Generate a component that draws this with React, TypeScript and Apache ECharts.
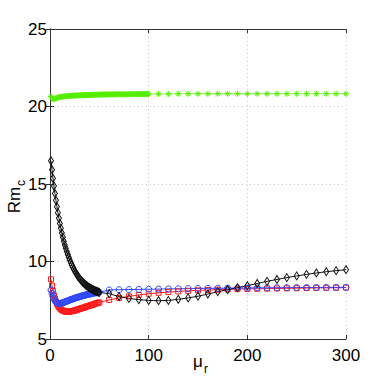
import React, { useEffect, useRef } from "react";
import * as echarts from "echarts";

// x positions: dense part 1..50 (red, blue, black), 1..100 (green); sparse part every 10
const xDense50 = Array.from({ length: 50 }, (_, i) => i + 1);
const xDense100 = Array.from({ length: 100 }, (_, i) => i + 1);
const xSparse60 = [60, 70, 80, 90, 100, 110, 120, 130, 140, 150, 160, 170, 180, 190, 200, 210, 220, 230, 240, 250, 260, 270, 280, 290, 300];
const xSparse110 = [110, 120, 130, 140, 150, 160, 170, 180, 190, 200, 210, 220, 230, 240, 250, 260, 270, 280, 290, 300];

const blackDense = [
  16.5, 15.92, 15.37, 14.87, 14.39, 13.95, 13.53, 13.15, 12.79, 12.45,
  12.14, 11.84, 11.57, 11.31, 11.07, 10.85, 10.64, 10.45, 10.27, 10.1,
  9.94, 9.79, 9.65, 9.52, 9.4, 9.29, 9.18, 9.08, 8.99, 8.91,
  8.83, 8.75, 8.68, 8.62, 8.56, 8.5, 8.45, 8.4, 8.35, 8.31,
  8.27, 8.23, 8.2, 8.16, 8.13, 8.1, 8.08, 8.05, 8.03, 8.01,
];
const blackSparse = [
  7.92, 7.74, 7.62, 7.54, 7.49, 7.47, 7.49, 7.56, 7.65, 7.76,
  7.9, 8.05, 8.18, 8.31, 8.44, 8.58, 8.72, 8.84, 8.96, 9.07,
  9.17, 9.26, 9.34, 9.41, 9.47,
];

const redDense = [
  8.85, 8.45, 8.1, 7.82, 7.6, 7.42, 7.28, 7.16, 7.06, 6.98,
  6.92, 6.87, 6.83, 6.8, 6.78, 6.77, 6.76, 6.76, 6.76, 6.77,
  6.78, 6.79, 6.81, 6.82, 6.84, 6.86, 6.88, 6.9, 6.92, 6.94,
  6.96, 6.98, 7.0, 7.02, 7.04, 7.07, 7.09, 7.11, 7.13, 7.15,
  7.17, 7.19, 7.21, 7.23, 7.26, 7.28, 7.3, 7.32, 7.34, 7.36,
];
const redSparse = [
  7.52, 7.65, 7.75, 7.84, 7.92, 7.98, 8.03, 8.07, 8.11, 8.14,
  8.16, 8.18, 8.2, 8.22, 8.23, 8.24, 8.25, 8.26, 8.27, 8.28,
  8.29, 8.3, 8.3, 8.31, 8.32,
];

const blueDense = [
  8.16, 7.95, 7.75, 7.6, 7.48, 7.4, 7.34, 7.31, 7.29, 7.29,
  7.3, 7.32, 7.34, 7.36, 7.39, 7.41, 7.44, 7.46, 7.49, 7.51,
  7.54, 7.56, 7.58, 7.61, 7.63, 7.65, 7.67, 7.69, 7.71, 7.73,
  7.75, 7.77, 7.79, 7.8, 7.82, 7.84, 7.85, 7.87, 7.88, 7.9,
  7.91, 7.93, 7.94, 7.95, 7.97, 7.98, 7.99, 8.0, 8.01, 8.02,
];
const blueSparse = [
  8.16, 8.18, 8.19, 8.2, 8.21, 8.22, 8.23, 8.24, 8.25, 8.26,
  8.27, 8.27, 8.28, 8.29, 8.29, 8.3, 8.3, 8.31, 8.31, 8.32,
  8.32, 8.32, 8.33, 8.33, 8.33,
];

const greenDense = [
  20.65, 20.55, 20.48, 20.47, 20.5, 20.53, 20.56, 20.58, 20.6, 20.61,
  20.62, 20.63, 20.64, 20.65, 20.66, 20.66, 20.67, 20.67, 20.68, 20.68,
  20.69, 20.69, 20.7, 20.7, 20.7, 20.71, 20.71, 20.71, 20.72, 20.72,
  20.72, 20.73, 20.73, 20.73, 20.73, 20.74, 20.74, 20.74, 20.74, 20.75,
  20.75, 20.75, 20.75, 20.75, 20.76, 20.76, 20.76, 20.76, 20.76, 20.77,
  20.77, 20.77, 20.77, 20.77, 20.77, 20.77, 20.78, 20.78, 20.78, 20.78,
  20.78, 20.78, 20.78, 20.78, 20.78, 20.79, 20.79, 20.79, 20.79, 20.79,
  20.79, 20.79, 20.79, 20.79, 20.79, 20.79, 20.79, 20.79, 20.79, 20.79,
  20.8, 20.8, 20.8, 20.8, 20.8, 20.8, 20.8, 20.8, 20.8, 20.8,
  20.8, 20.8, 20.8, 20.8, 20.8, 20.81, 20.81, 20.81, 20.81, 20.81,
];
const greenSparse = [
  20.81, 20.81, 20.82, 20.82, 20.82, 20.82, 20.82, 20.82, 20.82, 20.82,
  20.82, 20.82, 20.82, 20.82, 20.82, 20.82, 20.82, 20.82, 20.82, 20.82,
];

const xTicks = [0, 100, 200, 300];
const yTicks = [5, 10, 15, 20, 25];

const FONT = "'Liberation Sans Narrow', 'Nimbus Sans Narrow', 'Arial Narrow', 'Liberation Sans', Arial, sans-serif";

const pair = (xs: number[], ys: number[]) => xs.map((x, i) => [x, ys[i]]);

const ASTERISK = "path://M5,0 L5,10 M0,5 L10,5 M1.5,1.5 L8.5,8.5 M1.5,8.5 L8.5,1.5";

function mkSeries(name: string, data: number[][], color: string, symbol: string, size: any, lineColor?: string) {
  return {
    name,
    type: "line",
    data,
    symbol,
    symbolSize: size,
    showSymbol: true,
    showAllSymbol: true,
    lineStyle: { color: lineColor || color, width: 1 },
    itemStyle: { color: "rgba(0,0,0,0)", borderColor: color, borderWidth: 1 },
    emphasis: { disabled: true },
    z: 3,
  };
}

export default function App() {
  const ref = useRef<HTMLDivElement>(null);
  useEffect(() => {
    if (!ref.current) return;
    const chart = echarts.init(ref.current, null, { renderer: "svg" });
    const red = pair([...xDense50, ...xSparse60], [...redDense, ...redSparse]);
    const blue = pair([...xDense50, ...xSparse60], [...blueDense, ...blueSparse]);
    const black = pair([...xDense50, ...xSparse60], [...blackDense, ...blackSparse]);
    const green = pair([...xDense100, ...xSparse110], [...greenDense, ...greenSparse]);
    const axisLine = { show: true, lineStyle: { color: "#333", width: 1 } };
    const tick = { show: true, inside: true, length: 4, lineStyle: { color: "#333" } };
    const split = { show: true, lineStyle: { color: "#c8c8c8", type: [1, 3], width: 1 } };
    chart.setOption({
      animation: false,
      backgroundColor: "#fff",
      grid: { left: 50, top: 29, width: 296, height: 310, show: false },
      xAxis: [
        {
          type: "value", min: 0, max: 300, interval: 100, position: "bottom",
          axisLine, axisTick: tick,
          axisLabel: { color: "#000", fontSize: 17, fontFamily: FONT, margin: 8, formatter: (v: number) => (xTicks.includes(v) ? String(v) : "") },
          splitLine: split,
        },
        {
          type: "value", min: 0, max: 300, interval: 100, position: "top",
          axisLine, axisTick: tick, axisLabel: { show: false }, splitLine: { show: false },
        },
      ],
      yAxis: [
        {
          type: "value", min: 5, max: 25, interval: 5, position: "left",
          axisLine, axisTick: tick,
          axisLabel: { color: "#000", fontSize: 17, fontFamily: FONT, margin: 3, formatter: (v: number) => (yTicks.includes(v) ? String(v) : "") },
          splitLine: split,
        },
        {
          type: "value", min: 5, max: 25, interval: 5, position: "right",
          axisLine, axisTick: tick, axisLabel: { show: false }, splitLine: { show: false },
        },
      ],
      series: [
        mkSeries("red", red, "#ff1a1a", "rect", 5),
        mkSeries("blue", blue, "#2b45ff", "circle", 6),
        mkSeries("black", black, "#111", "diamond", [5, 8]),
        mkSeries("green", green, "#55ee00", ASTERISK, 6, "#7cf040"),
      ],
      graphic: [
        { type: "text", x: 14, y: 200, rotation: Math.PI / 2, style: { text: "Rm", fontSize: 17, fontFamily: FONT, fill: "#000", align: "center", verticalAlign: "middle" } },
        { type: "text", x: 21, y: 183, rotation: Math.PI / 2, style: { text: "c", fontSize: 12, fontFamily: FONT, fill: "#000", align: "center", verticalAlign: "middle" } },
        { type: "text", x: 198, y: 361, style: { text: "μ", fontSize: 17, fontFamily: FONT, fill: "#000", align: "center", verticalAlign: "middle" } },
        { type: "text", x: 206, y: 369, style: { text: "r", fontSize: 12, fontFamily: FONT, fill: "#000", align: "center", verticalAlign: "middle" } },
      ],
    });
    return () => chart.dispose();
  }, []);
  return <div ref={ref} style={{ width: 382, height: 382, position: "absolute", left: 0, top: 0 }} />;
}
